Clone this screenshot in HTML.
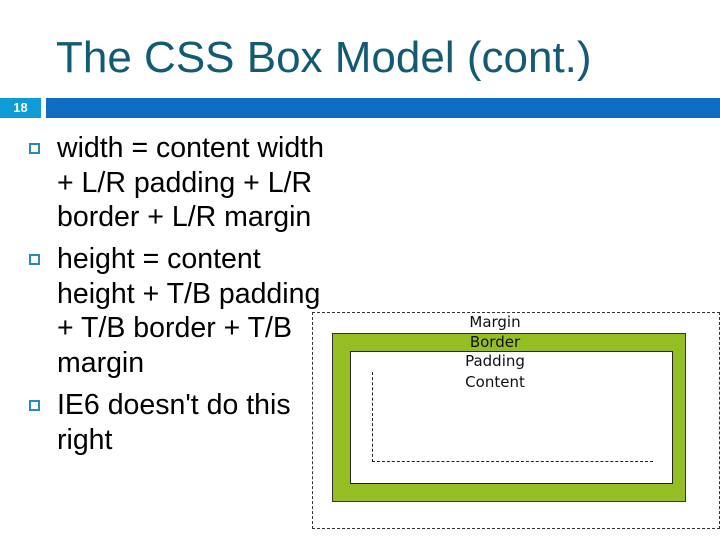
<!DOCTYPE html>
<html><head><meta charset="utf-8"><style>
body{margin:0;width:720px;height:540px;background:#fff;position:relative;overflow:hidden;font-family:"Liberation Sans",sans-serif}
.t{position:absolute;left:56px;top:33px;font-size:44px;color:#135a73;white-space:nowrap}
.n{position:absolute;left:0;top:98px;width:41px;height:20px;background:#0e9bd6;color:#fff;font-size:13px;font-weight:bold;text-align:center;line-height:20px}
.b{position:absolute;left:46px;top:98px;width:674px;height:20px;background:#0e6dc2}
.l{position:absolute;left:57px;font-size:28.5px;color:#000;white-space:nowrap;line-height:34.6px}
.sq{position:absolute;left:29px;width:11px;height:11px;border:2px solid #2a8bb5;box-sizing:border-box}
.bx{position:absolute}
.lab{position:absolute;left:440px;width:110px;text-align:center;font-family:"DejaVu Sans",sans-serif;font-size:15px;color:#111}
</style></head><body>
<div class="t">The CSS Box Model (cont.)</div>
<div class="n">18</div><div class="b"></div>
<div class="sq" style="top:143px"></div>
<div class="sq" style="top:254px"></div>
<div class="sq" style="top:400px"></div>
<div class="l" style="top:131px">width = content width<br>+ L/R padding + L/R<br>border + L/R margin</div>
<div class="l" style="top:242px">height = content<br>height + T/B padding<br>+ T/B border + T/B<br>margin</div>
<div class="l" style="top:388px">IE6 doesn't do this<br>right</div>
<div class="bx" style="left:312px;top:312px;width:406px;height:215px;border:1px dashed #333"></div>
<div class="bx" style="left:332px;top:333px;width:354px;height:169px;background:#95bd24;border:1px solid #333;box-sizing:border-box"></div>
<div class="bx" style="left:350px;top:351px;width:323px;height:133px;background:#fff;border:1px solid #222;box-sizing:border-box"></div>
<div class="bx" style="left:372px;top:372px;width:280px;height:89px;border-left:1px dashed #222;border-bottom:1px dashed #222"></div>
<div class="lab" style="top:313px">Margin</div>
<div class="lab" style="top:333px">Border</div>
<div class="lab" style="top:352px">Padding</div>
<div class="lab" style="top:373px">Content</div>
</body></html>
